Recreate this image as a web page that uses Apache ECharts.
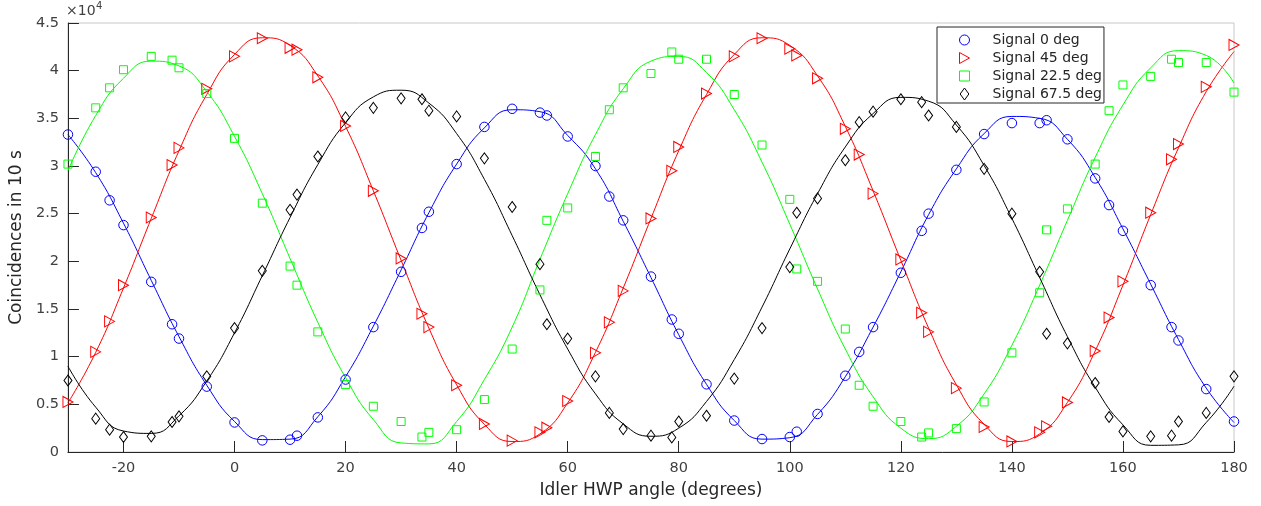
<!DOCTYPE html>
<html><head><meta charset="utf-8">
<script src="https://cdn.jsdelivr.net/npm/echarts@6/dist/echarts.min.js"></script>
<style>html,body{margin:0;padding:0;background:#fff}#c{width:1261px;height:506px}</style>
</head><body><div id="c"></div>
<script>
// Measured idler HWP angles (degrees)
const angles = [-30,-25,-22.5,-20,-15,-11.25,-10,-5,0,5,10,11.25,15,20,25,30,33.75,35,40,45,50,55,56.25,60,65,67.5,70,75,78.75,80,85,90,95,100,101.25,105,110,112.5,115,120,123.75,125,130,135,140,145,146.25,150,155,157.5,160,165,168.75,170,175,180];
// Coincidence counts in 10 s
const signal0 = [33300,29400,26400,23800,17850,13400,11900,6860,3100,1220,1290,1710,3630,7600,13100,18900,23500,25200,30200,34100,36000,35600,35300,33100,30000,26800,24300,18400,13900,12400,7100,3300,1360,1570,2130,3990,8000,10500,13100,18800,23200,25000,29600,33350,34500,34500,34800,32800,28700,25900,23200,17500,13100,11700,6600,3200];
const signal45 = [5250,10500,13700,17500,24600,30100,31900,38100,41500,43400,42400,42200,39300,34200,27400,20300,14500,13100,7000,2940,1190,2060,2550,5350,10400,13600,16900,24500,29500,32000,37600,41500,43400,42300,41600,39200,33900,31200,27100,20200,14600,12600,6700,2620,1110,2060,2700,5200,10600,14100,17900,25100,30700,32300,38300,42700];
const signal225 = [30200,36100,38200,40100,41500,41100,40300,37600,32900,26100,19500,17500,12600,7070,4800,3200,1570,2060,2340,5500,10800,17000,24300,25600,31000,35900,38200,39700,41960,41200,41200,37500,32200,26500,19200,17900,12900,7000,4800,3200,1570,2000,2450,5250,10400,16700,23300,25500,30200,35800,38500,39400,41200,40850,40850,37750];
const signal675 = [7500,3500,2340,1570,1640,3150,3740,7940,13000,19000,25400,27000,31000,35100,36100,37100,37000,35800,35200,30800,25700,19700,13400,11900,7940,4100,2400,1710,1530,3200,3800,7700,13000,19400,25100,26600,30600,34600,35700,37000,36700,35300,34100,29700,25000,18900,12400,11400,7240,3670,2160,1640,1710,3200,4100,7940];

// Fitted curves, every 5 degrees
const fitAngles = [-30,-25,-20,-15,-10,-5,0,5,10,15,20,25,30,35,40,45,50,55,60,65,70,75,80,85,90,95,100,105,110,115,120,125,130,135,140,145,150,155,160,165,170,175,180];
const fit0 = [33300,29300,24000,18000,12100,7000,3200,1300,1350,3700,7900,13200,19100,25100,30200,34000,35900,35700,33200,29700,24200,18300,12300,7100,3300,1350,1500,3950,7900,13100,18900,24900,29700,33400,35200,35000,32800,28800,23400,17600,11800,6700,3100];
const fit45 = [5150,10450,17200,24500,31600,37500,41700,43450,42650,39450,34150,27400,20100,13000,7050,2900,1100,1900,5150,10450,17200,24500,31600,37500,41700,43450,42650,39450,34150,27400,20100,13000,7050,2900,1100,1900,5200,10600,17500,24900,31900,37800,42000];
const fit225 = [29500,35300,39200,41000,40500,37800,33100,27100,20300,13600,7800,3400,950,850,3200,7600,13100,20200,27100,33300,38100,41000,41500,39800,35900,30400,23900,17100,10800,5800,2500,1400,2700,6100,11200,17500,24300,30900,36400,40300,42100,41600,38700];
const fit675 = [9000,4700,2200,1950,3800,7450,12500,18500,24600,30150,34550,37250,37950,36600,33400,28600,22700,16500,10800,6100,2950,1650,2500,5300,9700,15200,21300,27100,32000,35500,37200,36800,34300,30050,24500,18300,12100,6800,2850,700,750,3100,6900];

const xTicks = [-20,0,20,40,60,80,100,120,140,160,180];
const yTicks = [0,5000,10000,15000,20000,25000,30000,35000,40000,45000];
const seriesNames = ['Signal 0 deg','Signal 45 deg','Signal 22.5 deg','Signal 67.5 deg'];

const FONT = 'DejaVu Sans';
const styles = [
  {color:'#0000ff', symbol:'circle', size:9.5, rotate:0, icon:'circle'},
  {color:'#ff0000', symbol:'triangle', size:[11,10], rotate:-90, icon:'path://M0,0L10,5.5L0,11Z'},
  {color:'#00ff00', symbol:'rect', size:8, rotate:0, icon:'path://M1,1L9,1L9,9L1,9Z'},
  {color:'#000000', symbol:'diamond', size:[8,11], rotate:0, icon:'path://M4,0L8,5.5L4,11L0,5.5Z'}
];
const measured = [signal0, signal45, signal225, signal675];
const fits = [fit0, fit45, fit225, fit675];
const pairs = (xs, ys) => xs.map((x, i) => [x, ys[i]]);

const series = [];
fits.forEach((f, i) => {
  series.push({
    name: seriesNames[i] + ' fit', type: 'line', data: pairs(fitAngles, f),
    smooth: 0.5, showSymbol: false, symbol: 'none', silent: true,
    lineStyle: {color: styles[i].color, width: 1}, z: 2
  });
});
measured.forEach((m, i) => {
  const s = styles[i];
  series.push({
    name: seriesNames[i], type: 'scatter', data: pairs(angles, m),
    symbol: s.symbol, symbolSize: s.size, symbolRotate: s.rotate, clip: false,
    itemStyle: {color: 'rgba(0,0,0,0)', borderColor: s.color, borderWidth: 1, opacity: 1},
    z: 3
  });
});

const legendData = seriesNames.map((n, i) => ({name: n, icon: styles[i].icon}));

const chart = echarts.init(document.getElementById('c'), null, {renderer: 'canvas'});
chart.setOption({
  animation: false,
  backgroundColor: '#ffffff',
  grid: {left: 65, right: 27, top: 23, bottom: 54, containLabel: false,
         show: true, borderColor: '#c8c8c8', borderWidth: 1, backgroundColor: '#ffffff'},
  legend: {
    data: legendData, orient: 'vertical', left: 937, top: 27,
    padding: [6, 2, 2, 22], itemGap: 4, itemWidth: 10, itemHeight: 12,
    symbolRotate: 0,
    itemStyle: {borderWidth: 1},
    borderColor: '#262626', borderWidth: 1, backgroundColor: '#ffffff',
    textStyle: {fontFamily: FONT, fontSize: 14, color: '#262626', padding: [0, 0, 0, 18]}
  },
  xAxis: {
    type: 'value', min: -30, max: 180,
    name: 'Idler HWP angle (degrees)', nameLocation: 'middle', nameGap: 30,
    nameTextStyle: {fontFamily: FONT, fontSize: 17, color: '#262626'},
    axisLine: {show: true, onZero: false, lineStyle: {color: '#262626', width: 1}},
    axisTick: {show: true, inside: true, length: 11, customValues: xTicks, lineStyle: {color: '#262626'}},
    axisLabel: {customValues: xTicks, margin: 9, fontFamily: FONT, fontSize: 14.5, color: '#404040'},
    splitLine: {show: false}
  },
  yAxis: {
    type: 'value', min: 0, max: 45000, interval: 5000,
    name: 'Coincidences in 10 s', nameLocation: 'middle', nameGap: 35,
    nameTextStyle: {fontFamily: FONT, fontSize: 17, color: '#262626'},
    axisLine: {show: true, onZero: false, lineStyle: {color: '#262626', width: 1}},
    axisTick: {show: true, inside: true, length: 11, customValues: yTicks, lineStyle: {color: '#262626'}},
    axisLabel: {customValues: yTicks, margin: 9, fontFamily: FONT, fontSize: 14.5, color: '#404040',
                formatter: v => String(v / 10000)},
    splitLine: {show: false}
  },
  graphic: [
    {type: 'text', left: 66, top: 4, style: {text: '×10', fontFamily: FONT, fontSize: 14, fill: '#404040'}},
    {type: 'text', left: 96, top: 1, style: {text: '4', fontFamily: FONT, fontSize: 10, fill: '#404040'}}
  ],
  series: series
});
</script>
</body></html>
